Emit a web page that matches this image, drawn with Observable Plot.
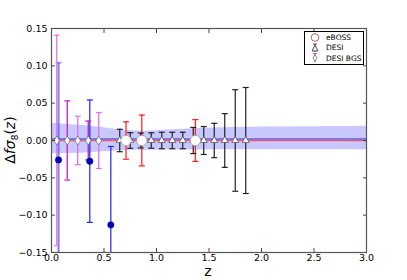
<!DOCTYPE html>
<html><head><meta charset="utf-8">
<script src="https://cdn.jsdelivr.net/npm/d3@7"></script>
<script src="https://cdn.jsdelivr.net/npm/@observablehq/plot@0.6"></script>
<style>
body{margin:0;background:#fff;}
#wrap{position:relative;width:407px;height:280px;font-family:"DejaVu Sans",sans-serif;}
#legend{position:absolute;left:304px;top:31px;width:58px;height:32px;border:1px solid #000;background:#fff;font-size:7.5px;}
#legend div{position:absolute;left:21px;}
#legend svg{position:absolute;left:0;top:0;}
</style></head>
<body><div id="wrap"></div>
<script>
// ---- data ----
const desiZ   = [0.65,0.75,0.85,0.95,1.05,1.15,1.25,1.35,1.45,1.55,1.65,1.75,1.85];
const desiErr = [0.015,0.0105,0.0100,0.0103,0.011,0.011,0.011,0.0175,0.0187,0.023,0.036,0.068,0.071];
const ebossZ   = [0.71,0.86,1.37];
const ebossErr = [0.025,0.034,0.028];
const bgsZ   = [0.05,0.15,0.25,0.35,0.45];
const bgsErr = [0.141,0.053,0.0325,0.026,0.0375];
const bgsColor = ["#e874e8","#c41cc4","#e070e0","#c41cc4","#e070e0"];
const obsZ   = [0.067,0.365,0.565];
const obsVal = [-0.026,-0.0277,-0.113];
const obsErr = [0.130,0.082,0.105];
const bandZ  = [0,0.15,0.3,0.45,0.6,0.75,0.9,1.1,1.3,1.6,2.0,2.5,3.0];
const bandHi = [0.023,0.0215,0.020,0.018,0.015,0.013,0.0125,0.014,0.0155,0.017,0.018,0.0185,0.019];
const bandLo = [-0.018,-0.0175,-0.017,-0.0155,-0.014,-0.013,-0.013,-0.0128,-0.0126,-0.0125,-0.0125,-0.0125,-0.0125];
const fidLine = 0.002;
const xTicks = [0,0.5,1,1.5,2,2.5,3];
const yTicks = [-0.15,-0.10,-0.05,0,0.05,0.10,0.15];

const desi  = desiZ.map((z,i)=>({z, v:0, e:desiErr[i]}));
const eboss = ebossZ.map((z,i)=>({z, v:0, e:ebossErr[i]}));
const bgs   = bgsZ.map((z,i)=>({z, v:0, e:bgsErr[i], c:bgsColor[i]}));
const obs   = obsZ.map((z,i)=>({z, v:obsVal[i], e:obsErr[i]}));
const band  = bandZ.map((z,i)=>({z, lo:bandLo[i], hi:bandHi[i]}));

const cap = {draw(c,s){const r=Math.sqrt(s/Math.PI); c.moveTo(-r,0); c.lineTo(r,0);}};
const thinDiamond = {draw(c,s){const r=Math.sqrt(s/Math.PI); c.moveTo(0,-r); c.lineTo(r*0.6,0); c.lineTo(0,r); c.lineTo(-r*0.6,0); c.closePath();}};
const triUp = {draw(c,s){const r=Math.sqrt(s/Math.PI); c.moveTo(0,-r); c.lineTo(r*0.87,r*0.5); c.lineTo(-r*0.87,r*0.5); c.closePath();}};
const fmt = d => (d<0?"\u2212":"") + Math.abs(d).toFixed(2);

function errbars(data, stroke, w=1.2, op=1){
  return [
    Plot.ruleX(data,{x:"z",y1:d=>d.v-d.e,y2:d=>d.v+d.e,stroke,strokeWidth:w,strokeOpacity:op,clip:true}),
    Plot.dot(data,{x:"z",y:d=>d.v+d.e,symbol:cap,r:3,stroke,strokeWidth:1.2,strokeOpacity:op,clip:true}),
    Plot.dot(data,{x:"z",y:d=>d.v-d.e,symbol:cap,r:3,stroke,strokeWidth:1.2,strokeOpacity:op,clip:true})
  ];
}

const chart = Plot.plot({
  width:407, height:280,
  marginLeft:51, marginRight:41, marginTop:28, marginBottom:28,
  style:{fontFamily:"DejaVu Sans, sans-serif", fontSize:"9.5px", color:"#000", background:"#fff"},
  x:{domain:[0,3]},
  y:{domain:[-0.15,0.15]},
  marks:[
    Plot.areaY(band,{x:"z",y1:"lo",y2:"hi",fill:"#3a3aff",fillOpacity:0.28}),
    Plot.ruleY([fidLine],{stroke:"#2a2ad8",strokeWidth:1}),
    Plot.ruleY([0],{stroke:"#f05a6a",strokeWidth:1.6}),
    ...errbars(obs.slice(0,1),"#5050ff",2,0.75),
    ...errbars(obs.slice(1),"#2020ff",1.2),
    ...errbars(bgs,d=>d.c,1.3),
    ...errbars(eboss,"#ff1a1a",1.2),
    ...errbars(desi,"#222",1.2),
    Plot.dot(obs,{x:"z",y:"v",r:3.2,fill:"#0000c8",stroke:"#000060",strokeWidth:0.5,clip:true}),
    Plot.dot(bgs,{x:"z",y:"v",symbol:thinDiamond,r:4.5,fill:"#fff",stroke:"#555",strokeWidth:0.6}),
    Plot.dot(desi,{x:"z",y:"v",symbol:triUp,r:4,fill:"#fff",stroke:"#333",strokeWidth:0.6}),
    Plot.dot(eboss,{x:"z",y:"v",r:5.2,fill:"#fff",stroke:"#888",strokeWidth:0.6}),
    Plot.axisX({ticks:xTicks,tickFormat:d=>d.toFixed(1),tickSize:-4,tickPadding:6,label:null,stroke:"#444"}),
    Plot.axisX({anchor:"top",ticks:xTicks,tickFormat:()=>"",tickSize:-4,label:null,stroke:"#444"}),
    Plot.axisY({ticks:yTicks,tickFormat:fmt,tickSize:-4,tickPadding:8,label:null,stroke:"#444"}),
    Plot.axisY({anchor:"right",ticks:yTicks,tickFormat:()=>"",tickSize:-4,label:null,stroke:"#444"}),
    Plot.frame({stroke:"#555",strokeWidth:1.2})
  ]
});
const wrap = document.getElementById("wrap");
wrap.appendChild(chart);

// axis titles
const ns = "http://www.w3.org/2000/svg";
const xl = document.createElementNS(ns,"text");
xl.setAttribute("x",208); xl.setAttribute("y",276); xl.setAttribute("text-anchor","middle");
xl.setAttribute("font-size","14"); xl.setAttribute("font-family","DejaVu Sans, sans-serif");
xl.textContent = "z";
chart.appendChild(xl);
const yl = document.createElementNS(ns,"text");
yl.setAttribute("transform","translate(15,140) rotate(-90)");
yl.setAttribute("text-anchor","middle");
yl.setAttribute("font-size","14"); yl.setAttribute("font-family","DejaVu Sans, sans-serif");
yl.innerHTML = '\u0394<tspan font-style="italic">f\u03c3</tspan><tspan font-size="9" dy="3">8</tspan><tspan dy="-3">(</tspan><tspan font-style="italic">z</tspan>)';
chart.appendChild(yl);

// legend
const lg = document.createElement("div");
lg.id = "legend";
lg.innerHTML = `<svg width="20" height="32">
<circle cx="10" cy="5.5" r="3.8" fill="#fff" stroke="#a04040" stroke-width="0.8"/>
<line x1="10" y1="12" x2="10" y2="20" stroke="#222" stroke-width="0.8"/><line x1="8" y1="12" x2="12" y2="12" stroke="#222" stroke-width="0.8"/>
<path d="M10,13 L13,19 L7,19 Z" fill="#fff" stroke="#222" stroke-width="0.8"/>
<line x1="10" y1="21.5" x2="10" y2="30" stroke="#c41cc4" stroke-width="0.8"/><line x1="8" y1="21.5" x2="12" y2="21.5" stroke="#c41cc4" stroke-width="0.8"/>
<path d="M10,22.5 L12,26 L10,29.5 L8,26 Z" fill="#fff" stroke="#666" stroke-width="0.7"/>
</svg>
<div style="top:1px">eBOSS</div><div style="top:11px">DESI</div><div style="top:21.5px">DESI BGS</div>`;
wrap.appendChild(lg);
</script>
</body></html>
